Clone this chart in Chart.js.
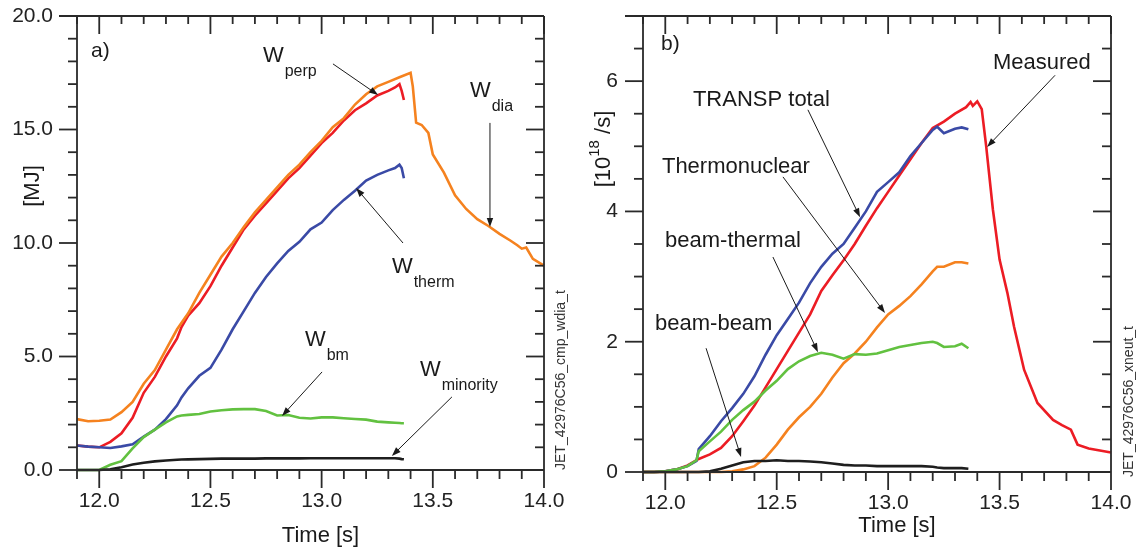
<!DOCTYPE html>
<html>
<head>
<meta charset="utf-8">
<script src="https://cdn.jsdelivr.net/npm/chart.js@4.4.0/dist/chart.umd.min.js"></script>
<style>
  body { margin: 0; background: #fff; }
  #wrap { position: relative; width: 1143px; height: 552px; }
  canvas { position: absolute; top: 0; }
  #left { left: 0; }
  #right { left: 572px; }
</style>
</head>
<body>
<div id="wrap">
  <canvas id="left" width="572" height="552"></canvas>
  <canvas id="right" width="571" height="552"></canvas>
</div>
<script>
// panel a) stored energies [MJ]
const tLeft = [11.90, 11.95, 12.00, 12.05, 12.10, 12.15, 12.20, 12.25, 12.30, 12.35, 12.37, 12.40, 12.45, 12.50, 12.55, 12.60, 12.65, 12.70, 12.75, 12.80, 12.85, 12.90, 12.95, 13.00, 13.05, 13.10, 13.15, 13.20, 13.25, 13.30, 13.33, 13.35, 13.36, 13.37];
const wPerp = [1.08, 1.03, 1.00, 1.24, 1.62, 2.30, 3.40, 4.10, 5.00, 5.80, 6.30, 6.80, 7.35, 8.10, 9.00, 9.80, 10.60, 11.20, 11.75, 12.30, 12.85, 13.30, 13.85, 14.40, 14.85, 15.40, 15.85, 16.15, 16.50, 16.70, 16.85, 17.00, 16.70, 16.30];
const wTherm = [1.08, 1.03, 1.00, 0.97, 1.04, 1.13, 1.47, 1.78, 2.24, 2.85, 3.20, 3.60, 4.15, 4.50, 5.30, 6.20, 7.00, 7.80, 8.50, 9.10, 9.65, 10.05, 10.60, 10.90, 11.45, 11.90, 12.30, 12.75, 13.00, 13.20, 13.30, 13.45, 13.30, 12.85];
const wBm = [0, 0, 0, 0.23, 0.39, 0.95, 1.45, 1.78, 2.10, 2.36, 2.40, 2.43, 2.47, 2.58, 2.63, 2.67, 2.68, 2.68, 2.60, 2.40, 2.42, 2.30, 2.27, 2.32, 2.32, 2.28, 2.25, 2.22, 2.13, 2.10, 2.08, 2.07, 2.06, 2.06];
const wMinority = [0, 0, 0, 0.03, 0.12, 0.24, 0.32, 0.38, 0.42, 0.45, 0.46, 0.47, 0.48, 0.49, 0.50, 0.50, 0.50, 0.50, 0.51, 0.51, 0.51, 0.51, 0.52, 0.52, 0.52, 0.52, 0.52, 0.52, 0.52, 0.52, 0.52, 0.50, 0.48, 0.47];
const tDia = [11.90, 11.95, 12.00, 12.05, 12.10, 12.15, 12.20, 12.25, 12.30, 12.35, 12.40, 12.45, 12.50, 12.55, 12.60, 12.65, 12.70, 12.75, 12.80, 12.85, 12.90, 12.95, 13.00, 13.05, 13.10, 13.15, 13.20, 13.25, 13.30, 13.35, 13.40, 13.41, 13.425, 13.45, 13.48, 13.50, 13.55, 13.60, 13.65, 13.70, 13.75, 13.80, 13.85, 13.88, 13.90, 13.92, 13.95, 14.00];
const wDia = [2.24, 2.15, 2.17, 2.22, 2.55, 3.00, 3.80, 4.40, 5.30, 6.20, 6.90, 7.80, 8.60, 9.40, 10.00, 10.70, 11.35, 11.90, 12.45, 13.00, 13.45, 14.00, 14.50, 15.10, 15.50, 16.10, 16.55, 16.90, 17.10, 17.30, 17.50, 16.90, 15.30, 15.20, 14.85, 13.90, 13.10, 12.10, 11.50, 11.05, 10.75, 10.40, 10.10, 9.90, 9.75, 9.80, 9.30, 9.00];

// panel b) neutron rates [10^18/s]
const tRight = [11.90, 11.95, 12.00, 12.05, 12.10, 12.14, 12.15, 12.20, 12.25, 12.30, 12.35, 12.40, 12.45, 12.50, 12.55, 12.60, 12.65, 12.70, 12.75, 12.80, 12.85, 12.90, 12.95, 13.00, 13.05, 13.10, 13.15, 13.20, 13.22, 13.25, 13.30, 13.33, 13.36];
const transpTotal = [0, 0, 0.01, 0.04, 0.09, 0.17, 0.35, 0.55, 0.78, 0.98, 1.20, 1.47, 1.80, 2.10, 2.35, 2.60, 2.90, 3.15, 3.35, 3.50, 3.75, 4.00, 4.30, 4.45, 4.60, 4.85, 5.05, 5.25, 5.30, 5.20, 5.27, 5.29, 5.26];
const beamThermal = [0, 0, 0.01, 0.04, 0.09, 0.18, 0.32, 0.47, 0.62, 0.80, 0.95, 1.08, 1.25, 1.40, 1.58, 1.70, 1.78, 1.83, 1.80, 1.74, 1.81, 1.80, 1.82, 1.87, 1.92, 1.95, 1.98, 2.00, 1.98, 1.92, 1.93, 1.97, 1.90];
const thermonuclear = [0, 0, 0, 0, 0, 0, 0, 0, 0, 0.01, 0.04, 0.09, 0.22, 0.42, 0.65, 0.84, 1.00, 1.20, 1.45, 1.67, 1.82, 2.00, 2.22, 2.42, 2.55, 2.70, 2.88, 3.08, 3.15, 3.15, 3.22, 3.22, 3.20];
const beamBeam = [0, 0, 0, 0, 0, 0, 0, 0.01, 0.05, 0.10, 0.15, 0.17, 0.17, 0.18, 0.17, 0.17, 0.16, 0.15, 0.13, 0.11, 0.10, 0.10, 0.09, 0.09, 0.09, 0.09, 0.09, 0.08, 0.07, 0.06, 0.06, 0.06, 0.05];
const tMeas = [11.90, 11.95, 12.00, 12.05, 12.10, 12.15, 12.20, 12.25, 12.30, 12.35, 12.40, 12.45, 12.50, 12.55, 12.60, 12.65, 12.70, 12.75, 12.80, 12.85, 12.90, 12.95, 13.00, 13.05, 13.10, 13.15, 13.20, 13.25, 13.30, 13.35, 13.37, 13.38, 13.40, 13.42, 13.44, 13.47, 13.50, 13.535, 13.565, 13.61, 13.67, 13.74, 13.78, 13.82, 13.85, 13.90, 13.95, 14.00];
const measured = [0, 0, 0.01, 0.04, 0.10, 0.20, 0.27, 0.37, 0.55, 0.78, 1.02, 1.30, 1.58, 1.86, 2.14, 2.42, 2.78, 3.02, 3.25, 3.50, 3.78, 4.05, 4.30, 4.55, 4.80, 5.05, 5.28, 5.38, 5.50, 5.60, 5.68, 5.62, 5.69, 5.57, 5.00, 4.03, 3.26, 2.75, 2.23, 1.57, 1.06, 0.80, 0.72, 0.65, 0.42, 0.36, 0.33, 0.30];

const xTicks = [12.0, 12.5, 13.0, 13.5, 14.0];
const yTicksLeft = [0, 5, 10, 15, 20];
const yTicksRight = [0, 2, 4, 6];

const FONT = "'Liberation Sans', Arial, Helvetica, sans-serif";
Chart.defaults.font.family = FONT;
Chart.defaults.color = '#222';

const ORANGE = '#f5821f', RED = '#ec1c24', BLUE = '#3a4aa6', GREEN = '#62c140', BLACK = '#1e1e1e';

const pts = (t, v) => t.map((x, i) => ({ x, y: v[i] }));
const line = (t, v, color) => ({
  data: pts(t, v), borderColor: color, borderWidth: 2.6,
  pointRadius: 0, tension: 0, fill: false, clip: 4
});

// tick values from lo, count steps of 'step', long tick every 'every' steps
function tickValues(lo, count, step, firstMajor, every) {
  const out = [];
  for (let i = 0; i <= count; i++) {
    out.push({ v: lo + i * step, major: (i - firstMajor) % every === 0 });
  }
  return out;
}

function arrow(ctx, x1, y1, x2, y2) {
  const ang = Math.atan2(y2 - y1, x2 - x1);
  const L = 9, W = 3.2;
  ctx.beginPath();
  ctx.moveTo(x1, y1);
  ctx.lineTo(x2 - L * 0.7 * Math.cos(ang), y2 - L * 0.7 * Math.sin(ang));
  ctx.stroke();
  ctx.beginPath();
  ctx.moveTo(x2, y2);
  ctx.lineTo(x2 - L * Math.cos(ang) + W * Math.sin(ang), y2 - L * Math.sin(ang) - W * Math.cos(ang));
  ctx.lineTo(x2 - L * Math.cos(ang) - W * Math.sin(ang), y2 - L * Math.sin(ang) + W * Math.cos(ang));
  ctx.closePath();
  ctx.fill();
}

function drawFrame(chart, cfg) {
  const ctx = chart.ctx, a = chart.chartArea;
  const sx = chart.scales.x, sy = chart.scales.y;
  const xt = tickValues(11.9, 21, 0.1, 1, 5);
  const yt = tickValues(0, cfg.yCount, cfg.yStep, 0, cfg.yEvery);
  ctx.save();
  ctx.strokeStyle = '#2a2a2a';
  ctx.lineWidth = 1.8;
  ctx.beginPath();
  ctx.moveTo(a.left - 18, a.top); ctx.lineTo(a.right, a.top);
  ctx.moveTo(a.left, a.top); ctx.lineTo(a.left, a.bottom);
  ctx.moveTo(a.left, a.bottom); ctx.lineTo(a.right, a.bottom);
  ctx.moveTo(a.right, a.top); ctx.lineTo(a.right, a.bottom);
  ctx.stroke();
  xt.forEach(k => {
    const px = sx.getPixelForValue(k.v);
    ctx.beginPath(); ctx.moveTo(px, a.bottom); ctx.lineTo(px, a.bottom + (k.major ? 18 : 9)); ctx.stroke();
    ctx.beginPath(); ctx.moveTo(px, a.top); ctx.lineTo(px, a.top + (k.major ? 18 : 8)); ctx.stroke();
  });
  yt.forEach(k => {
    const py = sy.getPixelForValue(k.v);
    const len = k.major ? 18 : 9;
    ctx.beginPath(); ctx.moveTo(a.left - len, py); ctx.lineTo(a.left, py); ctx.stroke();
    ctx.beginPath(); ctx.moveTo(a.right - len, py); ctx.lineTo(a.right, py); ctx.stroke();
  });
  ctx.restore();
}

function framePlugin(cfg) {
  return {
    id: 'frame',
    afterDraw(chart) {
      drawFrame(chart, cfg);
      const { ctx, chartArea: a } = chart;
      const sx = chart.scales.x, sy = chart.scales.y;
      ctx.save();
      ctx.fillStyle = '#1a1a1a';
      ctx.strokeStyle = '#1a1a1a';
      ctx.lineWidth = 1;
      ctx.textBaseline = 'alphabetic';
      ctx.textAlign = 'left';
      cfg.labels.forEach(l => {
        const px = sx.getPixelForValue(l.t), py = sy.getPixelForValue(l.v);
        ctx.font = `${l.size || 22}px ${FONT}`;
        ctx.fillText(l.text, px, py);
        if (l.sub) {
          const w = ctx.measureText(l.text).width;
          ctx.font = `16px ${FONT}`;
          ctx.fillText(l.sub, px + w + 1, py + 14);
        }
      });
      cfg.arrows.forEach(r => {
        arrow(ctx, sx.getPixelForValue(r[0]), sy.getPixelForValue(r[1]),
          sx.getPixelForValue(r[2]), sy.getPixelForValue(r[3]));
      });
      // x title
      ctx.font = `22px ${FONT}`;
      ctx.textAlign = 'center';
      ctx.textBaseline = 'middle';
      ctx.fillText('Time [s]', (a.left + a.right) / 2 + cfg.xTitleDx, cfg.xTitleY);
      // y title, rotated
      ctx.save();
      ctx.translate(cfg.yTitleX, cfg.yTitleY);
      ctx.rotate(-Math.PI / 2);
      const widths = cfg.yTitle.map(p => {
        ctx.font = `${p.sup ? 15 : 22}px ${FONT}`;
        return ctx.measureText(p.s).width;
      });
      let cx = -widths.reduce((s, w) => s + w, 0) / 2;
      ctx.textAlign = 'left';
      cfg.yTitle.forEach((p, i) => {
        ctx.font = `${p.sup ? 15 : 22}px ${FONT}`;
        ctx.fillText(p.s, cx, p.sup ? -9 : 0);
        cx += widths[i];
      });
      ctx.restore();
      // shot code on the right
      ctx.save();
      ctx.translate(a.right + cfg.codeDx, a.bottom + cfg.codeDy);
      ctx.rotate(-Math.PI / 2);
      ctx.font = `14px ${FONT}`;
      ctx.textAlign = 'left';
      ctx.textBaseline = 'middle';
      ctx.fillStyle = '#333';
      ctx.fillText(cfg.code, 0, 0);
      ctx.restore();
      ctx.restore();
    }
  };
}

function makeChart(id, datasets, yMax, yTicks, fmt, size, cfg) {
  return new Chart(document.getElementById(id), {
    type: 'line',
    data: { datasets },
    plugins: [framePlugin(cfg)],
    options: {
      responsive: false,
      animation: false,
      layout: { padding: { left: 0, right: size.padRight, top: 16, bottom: 0 } },
      plugins: { legend: { display: false }, tooltip: { enabled: false } },
      scales: {
        x: {
          type: 'linear', min: 11.9, max: 14.0,
          grid: { display: false, drawTicks: false },
          border: { display: false },
          afterBuildTicks: s => { s.ticks = xTicks.map(v => ({ value: v })); },
          afterFit: s => { s.height = size.xHeight; s.paddingLeft = 0; s.paddingRight = 0; },
          ticks: { font: { size: 21 }, padding: 19, maxRotation: 0, autoSkip: false,
                   callback: v => v.toFixed(1) }
        },
        y: {
          type: 'linear', min: 0, max: yMax,
          grid: { display: false, drawTicks: false },
          border: { display: false },
          afterBuildTicks: s => { s.ticks = yTicks.map(v => ({ value: v })); },
          afterFit: s => { s.width = size.yWidth; s.paddingTop = 0; s.paddingBottom = 0; },
          ticks: { font: { size: 21 }, padding: size.yPad, callback: fmt }
        }
      }
    }
  });
}

makeChart('left', [
  line(tLeft, wMinority, BLACK),
  line(tLeft, wBm, GREEN),
  line(tLeft, wTherm, BLUE),
  line(tDia, wDia, ORANGE),
  line(tLeft, wPerp, RED)
], 20, yTicksLeft, v => v.toFixed(1),
{ padRight: 28, xHeight: 82, yWidth: 77, yPad: 24 },
{
  yCount: 20, yStep: 1, yEvery: 5,
  labels: [
    { text: 'a)', t: 11.963, v: 18.2, size: 21 },
    { text: 'W', sub: 'perp', t: 12.736, v: 17.97 },
    { text: 'W', sub: 'dia', t: 13.667, v: 16.43 },
    { text: 'W', sub: 'therm', t: 13.316, v: 8.68 },
    { text: 'W', sub: 'bm', t: 12.925, v: 5.46 },
    { text: 'W', sub: 'minority', t: 13.442, v: 4.14 }
  ],
  arrows: [
    [13.051, 17.89, 13.254, 16.52],
    [13.757, 15.29, 13.757, 10.70],
    [13.366, 10.00, 13.155, 12.42],
    [13.002, 4.32, 12.822, 2.38],
    [13.586, 3.22, 13.316, 0.62]
  ],
  xTitleDx: 10, xTitleY: 536,
  yTitleX: 33, yTitleY: 186,
  yTitle: [{ s: '[MJ]' }],
  code: 'JET_42976C56_cmp_wdia_t', codeDx: 17, codeDy: 0
});

makeChart('right', [
  line(tRight, beamBeam, BLACK),
  line(tRight, beamThermal, GREEN),
  line(tRight, thermonuclear, ORANGE),
  line(tRight, transpTotal, BLUE),
  line(tMeas, measured, RED)
], 7, yTicksRight, v => String(v),
{ padRight: 32, xHeight: 80, yWidth: 71, yPad: 25 },
{
  yCount: 14, yStep: 0.5, yEvery: 4,
  labels: [
    { text: 'b)', t: 11.981, v: 6.48, size: 21 },
    { text: 'Measured', t: 13.470, v: 6.19 },
    { text: 'TRANSP total', t: 12.124, v: 5.62 },
    { text: 'Thermonuclear', t: 11.985, v: 4.59 },
    { text: 'beam-thermal', t: 11.999, v: 3.45 },
    { text: 'beam-beam', t: 11.954, v: 2.18 }
  ],
  arrows: [
    [13.749, 6.09, 13.444, 4.99],
    [12.640, 5.56, 12.874, 3.91],
    [12.528, 4.53, 12.986, 2.44],
    [12.483, 3.30, 12.685, 1.84],
    [12.183, 1.90, 12.340, 0.23]
  ],
  xTitleDx: 20, xTitleY: 526,
  yTitleX: 32, yTitleY: 149,
  yTitle: [{ s: '[10' }, { s: '18', sup: true }, { s: ' /s]' }],
  code: 'JET_42976C56_xneut_t', codeDx: 18, codeDy: 5
});
</script>
</body>
</html>
